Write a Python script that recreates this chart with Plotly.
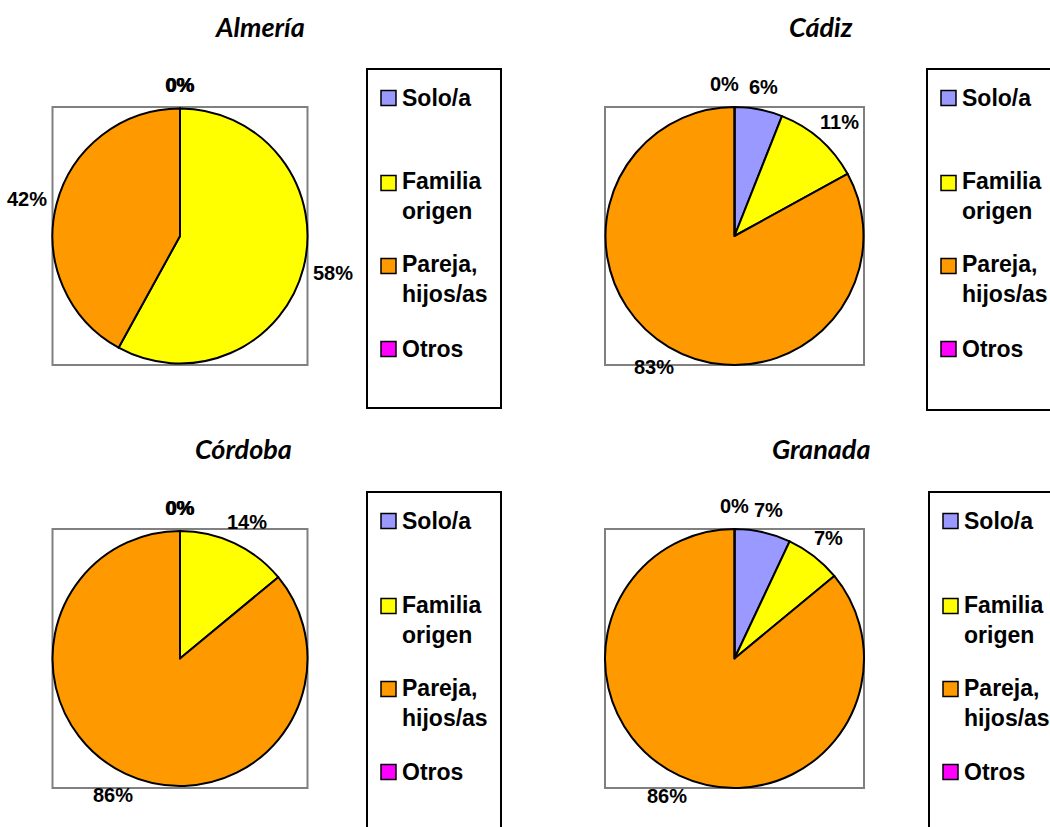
import math
import plotly.graph_objects as go

W, H = 1050, 827

regions = ["Almería", "Cádiz", "Córdoba", "Granada"]
categories = ["Solo/a", "Familia origen", "Pareja, hijos/as", "Otros"]
legend_text = ["Solo/a", "Familia<br>origen", "Pareja,<br>hijos/as", "Otros"]
slice_colors = ["#9999FF", "#FFFF00", "#FF9900", "#FF00FF"]

almeria = [0, 58, 42, 0]
cadiz = [6, 11, 83, 0]
cordoba = [0, 14, 86, 0]
granada = [7, 7, 86, 0]
series = [almeria, cadiz, cordoba, granada]

# Panel geometry in pixels: plot box, legend frame, title centre
panels = [
    dict(box=(52.5, 107, 307.5, 365), legend=(367, 69, 501, 408), title=(259, 26)),
    dict(box=(605, 107, 864, 365), legend=(927, 69, 1080, 410), title=(821, 26)),
    dict(box=(52.5, 529, 307.5, 788), legend=(367, 492, 501, 860), title=(243, 448)),
    dict(box=(605, 529, 864, 788), legend=(929, 492, 1080, 860), title=(821, 448)),
]
row_offsets = [29, 114, 197, 280]

LABEL_SIZE = 20
LABEL_GAP = 10
LABEL_HEIGHT = 26
LABEL_SPACING = 10


def px(x):
    return x / W


def py(y):
    return 1 - y / H


def text_width(s, size):
    # approximate advance widths of bold sans digits and percent sign
    return size * sum(0.889 if ch == "%" else 0.556 for ch in s)


def place_labels(vals, cx, cy, r):
    """Outside-end label boxes at each slice's mid angle, nudged apart when they collide."""
    total = sum(vals)
    cum = 0
    boxes = []
    for v in vals:
        theta = 2 * math.pi * (cum + v / 2) / total
        cum += v
        s, c = math.sin(theta), -math.cos(theta)
        txt = f"{v}%"
        w = text_width(txt, LABEL_SIZE)
        x = cx + (r + LABEL_GAP) * s + s * w / 2
        y = cy + (r + LABEL_GAP) * c + c * LABEL_HEIGHT / 2
        for b in boxes:
            same = abs(b["x"] - x) < 0.5 and abs(b["y"] - y) < 0.5
            overlap_x = abs(b["x"] - x) < (b["w"] + w) / 2
            overlap_y = abs(b["y"] - y) < LABEL_HEIGHT * 0.8
            if not same and overlap_x and overlap_y:
                sign = -1 if x <= b["x"] else 1
                x = b["x"] + sign * ((b["w"] + w) / 2 + LABEL_SPACING)
        boxes.append(dict(x=x, y=y, w=w, text=txt))
    return boxes


LABEL_FONT = dict(family="Liberation Sans, Arial", size=LABEL_SIZE, color="black", weight="bold")
LEGEND_FONT = dict(family="Liberation Sans, Arial", size=23, color="black", weight="bold")
TITLE_FONT = dict(family="Lato", size=27, color="black", weight="bold", style="italic")

fig = go.Figure()
shapes = []
annotations = []

for name, vals, p in zip(regions, series, panels):
    x0, y0, x1, y1 = p["box"]
    fig.add_trace(go.Pie(
        labels=categories,
        values=vals,
        sort=False,
        direction="clockwise",
        rotation=0,
        marker=dict(colors=slice_colors, line=dict(color="black", width=2)),
        textinfo="none",
        showlegend=False,
        hoverinfo="label+percent",
        domain=dict(x=[px(x0), px(x1)], y=[py(y1), py(y0)]),
    ))

    # value labels just outside each slice
    cx, cy = (x0 + x1) / 2, (y0 + y1) / 2
    r = min(x1 - x0, y1 - y0) / 2
    for b in place_labels(vals, cx, cy, r):
        annotations.append(dict(xref="paper", yref="paper", x=px(b["x"]), y=py(b["y"]),
                                xanchor="center", yanchor="middle", text=b["text"],
                                showarrow=False, font=LABEL_FONT))

    # plot area frame
    shapes.append(dict(type="rect", xref="paper", yref="paper",
                       x0=px(x0), x1=px(x1), y0=py(y1), y1=py(y0),
                       line=dict(color="#808080", width=2), layer="below"))
    # legend frame and entries
    lx0, ly0, lx1, ly1 = p["legend"]
    shapes.append(dict(type="rect", xref="paper", yref="paper",
                       x0=px(lx0), x1=px(lx1), y0=py(ly1), y1=py(ly0),
                       line=dict(color="black", width=2)))
    for txt, col, off in zip(legend_text, slice_colors, row_offsets):
        ey = ly0 + off
        shapes.append(dict(type="rect", xref="paper", yref="paper",
                           x0=px(lx0 + 14), x1=px(lx0 + 29),
                           y0=py(ey + 7.5), y1=py(ey - 7.5),
                           fillcolor=col, line=dict(color="black", width=1.5)))
        nlines = txt.count("<br>") + 1
        annotations.append(dict(xref="paper", yref="paper",
                                x=px(lx0 + 33), y=py(ey + 13.5 * (nlines - 1)),
                                xanchor="left", yanchor="middle", align="left",
                                text=txt, showarrow=False, font=LEGEND_FONT))
    tx, ty = p["title"]
    annotations.append(dict(xref="paper", yref="paper", x=px(tx), y=py(ty),
                            xanchor="center", yanchor="middle", text=name,
                            showarrow=False, font=TITLE_FONT))

fig.update_layout(
    width=W, height=H, autosize=False,
    margin=dict(l=0, r=0, t=0, b=0),
    paper_bgcolor="white", plot_bgcolor="white",
    shapes=shapes, annotations=annotations,
)

fig.write_html("out.html")
